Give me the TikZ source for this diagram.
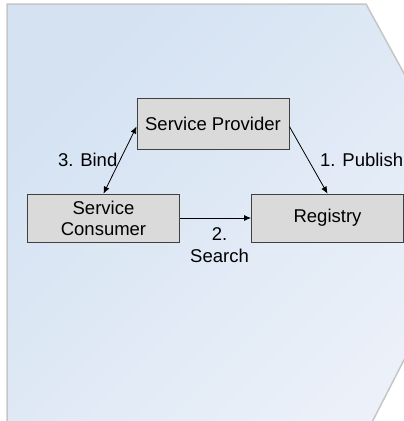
\documentclass[tikz,border=0pt]{standalone}
\usepackage{fontspec}
\setmainfont{Liberation Sans}
\usetikzlibrary{arrows.meta}
\definecolor{bgdark}{RGB}{212,226,242}
\definecolor{bglight}{RGB}{236,241,249}
\definecolor{boxgray}{RGB}{218,218,218}
\tikzset{
  rolebox/.style={draw=black!75, fill=boxgray, line width=0.8pt, minimum height=48pt,
    minimum width=152pt, align=center, font=\fontsize{18.5}{21}\selectfont},
  steplabel/.style={align=center, font=\fontsize{18.5}{21.5}\selectfont},
  flow/.style={line width=0.8pt, -{Latex[length=7pt,width=6pt]}}
}
\begin{document}
\begin{tikzpicture}[x=1pt,y=-1pt]
\def\frameshape{(7,4) -- (366,4) -- (480,212) -- (368,430) -- (7,430) -- cycle}

\useasboundingbox (0,0) rectangle (404,421);

\begin{scope} % Background panel, cut off at the right
\clip (0,0) rectangle (404,421);
\shade[top color=bgdark, bottom color=bglight, shading angle=45] \frameshape;
\draw[gray!45, line width=1.5pt] \frameshape;
\end{scope}

\node[rolebox, minimum height=51pt] (provider) at (213,123.5) {Service Provider};
\node[rolebox] (consumer) at (103.5,218) {Service\\Consumer};
\node[rolebox] (registry) at (327.5,218) {Registry};

\draw[flow, {Latex[length=7pt,width=6pt]}-{Latex[length=7pt,width=6pt]}]
  (consumer.north) -- ([yshift=-3pt]provider.west) node[pos=0.5, steplabel, left=-1pt] (bind) {3. Bind};
\draw[flow] ([yshift=-3pt]provider.east) -- (registry.north)
  node[pos=0.5, steplabel, right=8pt] (publish) {1. Publish};
\draw[flow] (consumer.east) -- (registry.west)
  node[pos=0.5, steplabel, below=6pt, xshift=4pt] (search) {2.\\Search};
\end{tikzpicture}
\end{document}
